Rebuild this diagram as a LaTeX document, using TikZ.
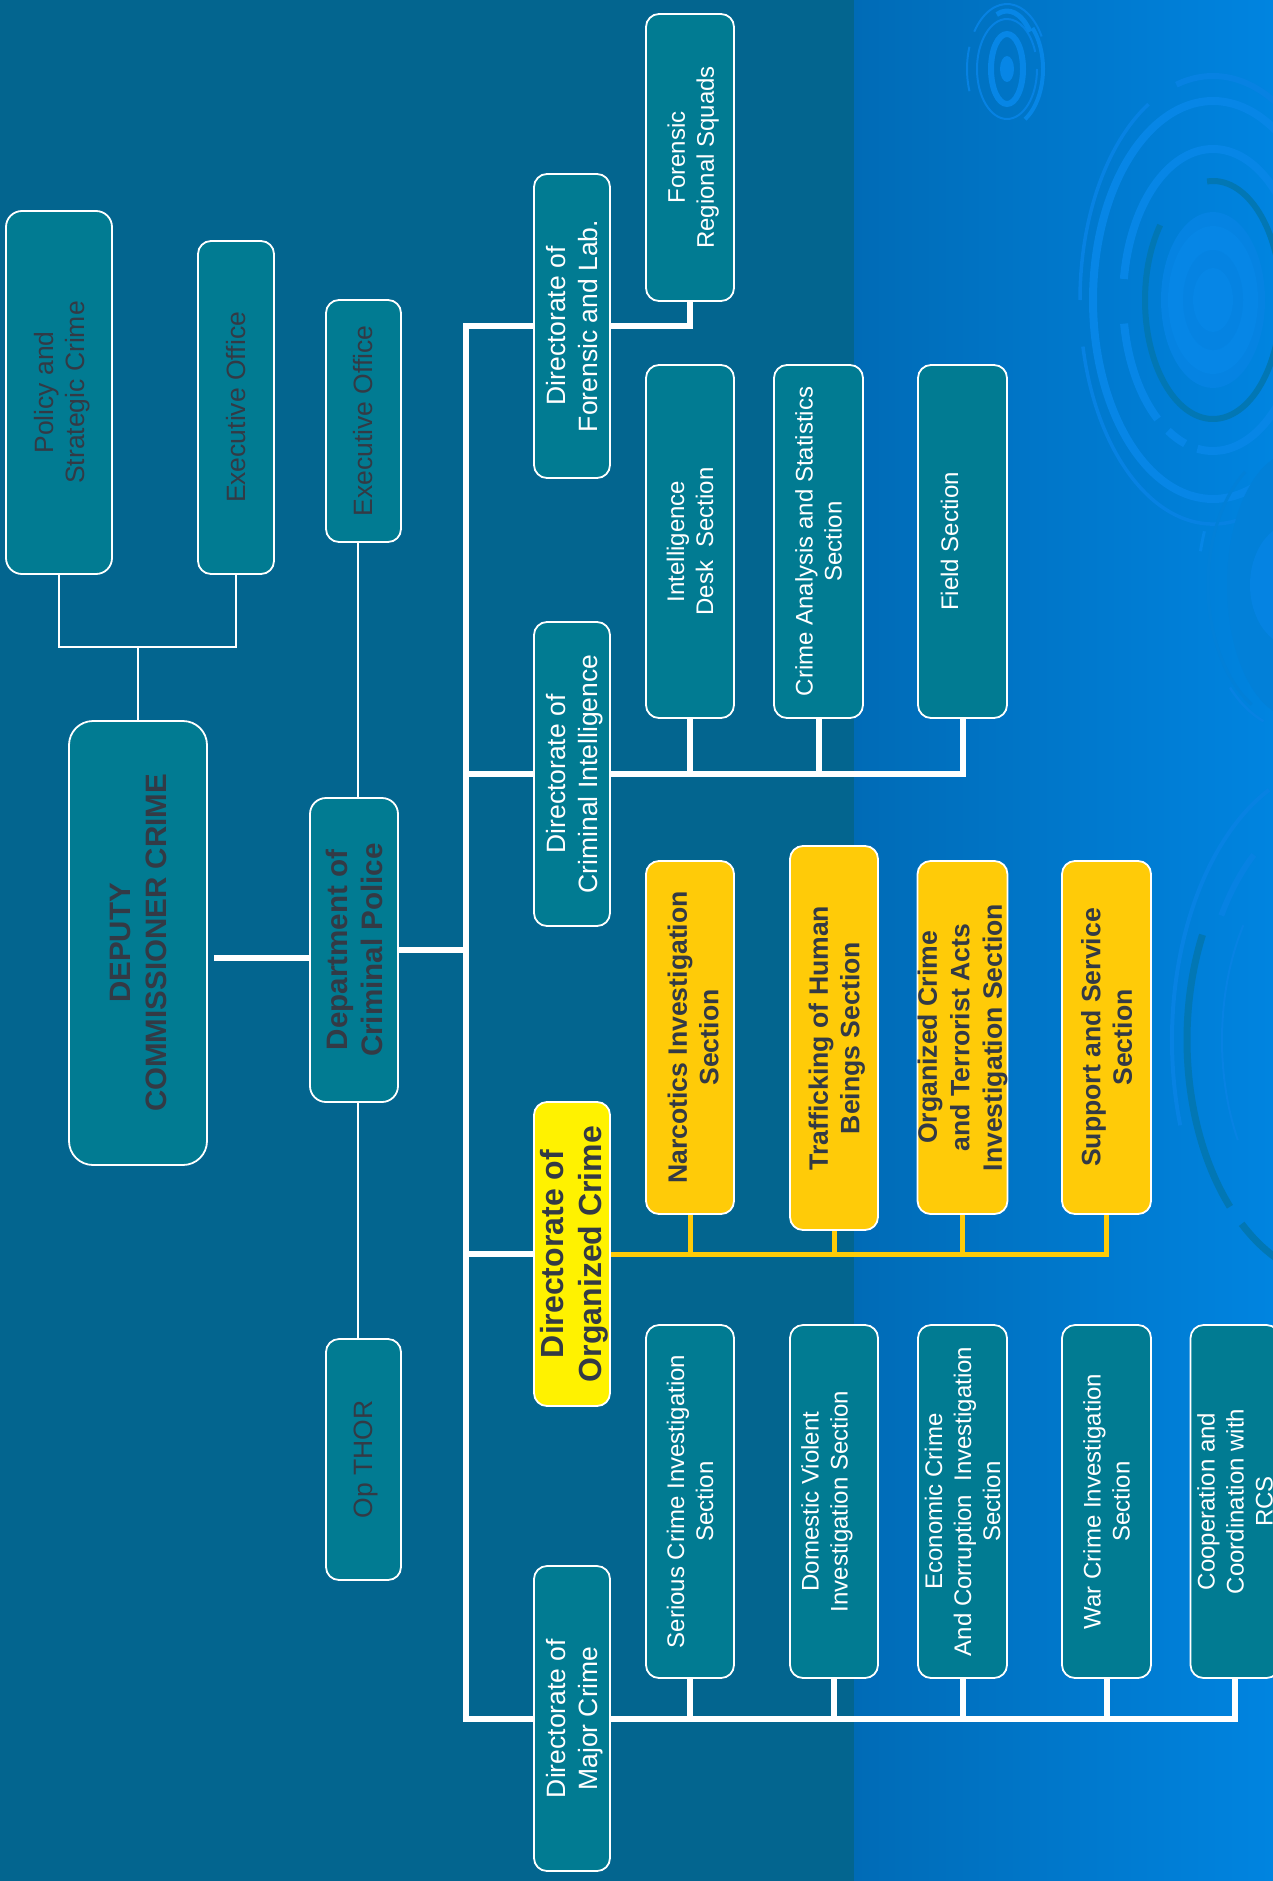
\documentclass[tikz,border=0pt]{standalone}
\usepackage{fontspec}
\setmainfont{Liberation Sans}
\definecolor{panelDark}{HTML}{03658F}
\definecolor{bgL}{HTML}{006BB6}
\definecolor{bgR}{HTML}{0084E0}
\definecolor{tealbox}{HTML}{017B92}
\definecolor{amber}{HTML}{FFCB08}
\definecolor{brightY}{HTML}{FFF200}
\definecolor{darktxt}{HTML}{333A45}
\definecolor{ringA}{HTML}{0782E2}
\definecolor{ringB}{HTML}{0786E6}
\definecolor{ringC}{HTML}{0583E2}
\definecolor{ringE}{HTML}{0686E6}
\definecolor{ringD}{HTML}{0277B4}
\definecolor{ringF}{HTML}{0280D8}
\newcommand{\ringarc}[8]{\draw[line width=#7,color=#8] (#1,#2) ++(#5:#3 and #4) arc[start angle=#5,end angle=#6,x radius=#3,y radius=#4];}
\tikzset{
  orgbox/.style={rotate=90,draw=white,line width=1.8pt,fill=tealbox,align=center,inner sep=0pt,rounded corners=13pt},
  plaintxt/.style={text=white,font=\fontsize{24}{29}\selectfont},
  dirtxt/.style={text=white,font=\fontsize{26.5}{32}\selectfont},
  grytxt/.style={text=darktxt,font=\fontsize{26.5}{31}\selectfont},
  boldtxt/.style={text=darktxt,font=\bfseries\fontsize{26.6}{31.5}\selectfont},
  amberbox/.style={fill=amber,boldtxt},
  wlink/.style={draw=white,line width=6pt},
  ylink/.style={draw=amber,line width=5pt},
  thinlink/.style={draw=white,line width=2pt},
  tright/.style={execute at begin node={\rule{0pt}{#1}}},
  tleft/.style={execute at end node={\rule[-#1]{0pt}{0pt}}}
}
\begin{document}
\begin{tikzpicture}[x=1pt,y=-1pt]
\clip (0,0) rectangle (1273,1881);
\shade[left color=bgL,right color=bgR] (853,0) rectangle (1273,1881);
\fill[panelDark] (0,0) rectangle (853.5,1881);
% small ripple
\ringarc{1007}{69}{40}{65}{160}{200}{2}{ringA}
\ringarc{1007}{69}{40}{65}{215}{330}{2}{ringA}
\ringarc{1007}{69}{36}{58}{-45}{60}{4}{ringB}
\ringarc{1007}{69}{30}{50}{0}{340}{2}{ringA}
\ringarc{1007}{69}{30}{58}{250}{320}{5}{ringB}
\ringarc{1007}{69}{16}{35}{0}{360}{6}{ringB}
\fill[ringB] (1007,69) ellipse[x radius=7,y radius=13];
% big ripple
\ringarc{1213}{300}{133}{224}{168}{50}{3.5}{ringA}
\ringarc{1213}{300}{133}{224}{180}{241}{3.5}{ringA}
\ringarc{1213}{300}{133}{224}{254}{330}{6}{ringA}
\ringarc{1213}{300}{120}{199}{50}{330}{8}{ringB}
\ringarc{1213}{300}{90}{151}{188}{270}{8}{ringB}
\ringarc{1213}{300}{90}{151}{270}{350}{8}{ringB}
\ringarc{1213}{300}{90}{151}{171}{128}{8}{ringB}
\ringarc{1213}{300}{90}{151}{120}{108}{8}{ringB}
\ringarc{1213}{300}{90}{151}{100}{40}{8}{ringB}
\ringarc{1213}{300}{68}{119}{-95}{219}{6}{ringD}
\fill[ringC] (1213,300) ellipse[x radius=52,y radius=88];
\fill[ringE] (1213,300) ellipse[x radius=45,y radius=74];
\fill[ringC] (1213,300) ellipse[x radius=30,y radius=50];
\fill[ringE] (1213,300) ellipse[x radius=20,y radius=32];
% middle ripple
\ringarc{1295}{585}{97}{150}{193}{201}{3}{ringE}
\ringarc{1295}{585}{87}{138}{120}{235}{3}{ringF}
\ringarc{1295}{585}{92}{145}{110}{135}{2.5}{ringA}
\fill[ringF] (1295,585) ellipse[x radius=68,y radius=133];
\fill[ringC] (1295,585) ellipse[x radius=45,y radius=62];
% lower ripple
\ringarc{1340}{1040}{168}{276}{162}{245}{4}{ringA}
\ringarc{1340}{1040}{140}{235}{212}{232}{6}{ringA}
\ringarc{1340}{1040}{118}{200}{150}{215}{2}{ringA}
\ringarc{1340}{1040}{153}{240}{206}{136}{7}{ringD}
\ringarc{1340}{1040}{153}{240}{130}{100}{7}{ringD}
% connector junctions
\coordinate (trunkTop) at (466,326);
\coordinate (trunkBot) at (466,1718.5);
\coordinate (thinx) at (358,0);
\coordinate (depJoin) at (138,647);
\coordinate (depOut) at (214,958);
% nodes
\node[orgbox,grytxt,tright=56pt,rounded corners=16pt,minimum width=363,minimum height=106] (policy) at (59,392.5) {Policy and\\Strategic Crime};
\node[orgbox,grytxt,minimum width=333,minimum height=76] (execA) at (236,407.5) {Executive Office};
\node[orgbox,grytxt,minimum width=242,minimum height=75] (execB) at (363.5,421) {Executive Office};
\node[orgbox,grytxt,tright=24pt,minimum width=241,minimum height=75] (opthor) at (363.5,1459.5) {Op THOR};
\node[orgbox,text=darktxt,font=\bfseries\fontsize{29.5}{36}\selectfont,rounded corners=24pt,minimum width=444,minimum height=138] (deputy) at (138,943) {DEPUTY\\COMMISSIONER CRIME};
\node[orgbox,text=darktxt,font=\bfseries\fontsize{29.6}{35}\selectfont,rounded corners=16pt,minimum width=304,minimum height=88] (dept) at (354,950) {Department of\\Criminal Police};
\node[orgbox,dirtxt,minimum width=304,minimum height=76] (dirFor) at (572,326) {Directorate of\\Forensic and Lab.};
\node[orgbox,dirtxt,tright=56.5pt,minimum width=304,minimum height=76] (dirInt) at (572,774) {Directorate of\\Criminal Intelligence};
\node[orgbox,fill=brightY,text=darktxt,font=\bfseries\fontsize{32}{38}\selectfont,tright=66.5pt,minimum width=304,minimum height=76] (dirOrg) at (572,1254) {Directorate of\\Organized Crime};
\node[orgbox,dirtxt,tright=56.5pt,minimum width=305,minimum height=76] (dirMaj) at (572,1718.5) {Directorate of\\Major Crime};
\node[orgbox,plaintxt,tright=52.5pt,minimum width=287,minimum height=88] (forReg) at (690,157.5) {Forensic\\Regional Squads};
\node[orgbox,plaintxt,minimum width=353,minimum height=88] (intel) at (690,541.5) {Intelligence\\Desk~~Section};
\node[orgbox,plaintxt,minimum width=353,minimum height=89] (crimeA) at (818.5,541.5) {Crime Analysis and Statistics\\Section};
\node[orgbox,plaintxt,tleft=26pt,minimum width=353,minimum height=89] (field) at (962.5,541.5) {Field Section};
\node[orgbox,amberbox,tright=57pt,minimum width=353,minimum height=88] (narc) at (690,1037.5) {Narcotics Investigation\\Section};
\node[orgbox,amberbox,tright=56.5pt,minimum width=384,minimum height=88] (traff) at (834,1038) {Trafficking of Human\\Beings Section};
\node[orgbox,amberbox,font=\bfseries\fontsize{26.6}{32.5}\selectfont,minimum width=353,minimum height=89] (orgc) at (962.5,1037.5) {Organized Crime\\and Terrorist Acts\\Investigation Section};
\node[orgbox,amberbox,minimum width=353,minimum height=89] (supp) at (1106.5,1037.5) {Support and Service\\Section};
\node[orgbox,plaintxt,minimum width=353,minimum height=88] (serious) at (690,1501.5) {Serious Crime Investigation\\Section};
\node[orgbox,plaintxt,tleft=19pt,minimum width=353,minimum height=88] (domestic) at (834,1501.5) {Domestic Violent\\Investigation Section};
\node[orgbox,plaintxt,minimum width=353,minimum height=89] (econ) at (962.5,1501.5) {Economic Crime\\And Corruption~~Investigation\\Section};
\node[orgbox,plaintxt,minimum width=353,minimum height=89] (war) at (1106.5,1501.5) {War Crime Investigation\\Section};
\node[orgbox,plaintxt,minimum width=353,minimum height=89] (coop) at (1235,1501.5) {Cooperation and\\Coordination with\\RCS};
% connectors
\draw[thinlink] (policy.west) |- (depJoin) -| (execA.west);
\draw[thinlink] (deputy.east) -- (depJoin);
\draw[thinlink] (thinx |- dept.east) -- (thinx |- execB.west);
\draw[thinlink] (thinx |- dept.west) -- (thinx |- opthor.east);
\draw[wlink] (depOut) -- (dept.north |- depOut);
\draw[wlink] (dept.south) -- (trunkTop |- dept.south);
\draw[wlink] (dirFor.north) -- (trunkTop) -- (trunkBot) -- (dirMaj.north);
\draw[wlink] (trunkTop |- dirInt.north) -- (dirInt.north);
\draw[wlink] (trunkTop |- dirOrg.north) -- (dirOrg.north);
\draw[wlink] (dirFor.south) -| (forReg.west);
\draw[wlink] (dirInt.south) -| (field.west);
\draw[wlink] (intel.west) -- (intel.west |- dirInt.south);
\draw[wlink] (crimeA.west) -- (crimeA.west |- dirInt.south);
\draw[ylink] (dirOrg.south) -| (supp.west);
\draw[ylink] (narc.west) -- (narc.west |- dirOrg.south);
\draw[ylink] (traff.west) -- (traff.west |- dirOrg.south);
\draw[ylink] (orgc.west) -- (orgc.west |- dirOrg.south);
\draw[wlink] (dirMaj.south) -| (coop.west);
\draw[wlink] (serious.west) -- (serious.west |- dirMaj.south);
\draw[wlink] (domestic.west) -- (domestic.west |- dirMaj.south);
\draw[wlink] (econ.west) -- (econ.west |- dirMaj.south);
\draw[wlink] (war.west) -- (war.west |- dirMaj.south);
\end{tikzpicture}
\end{document}
